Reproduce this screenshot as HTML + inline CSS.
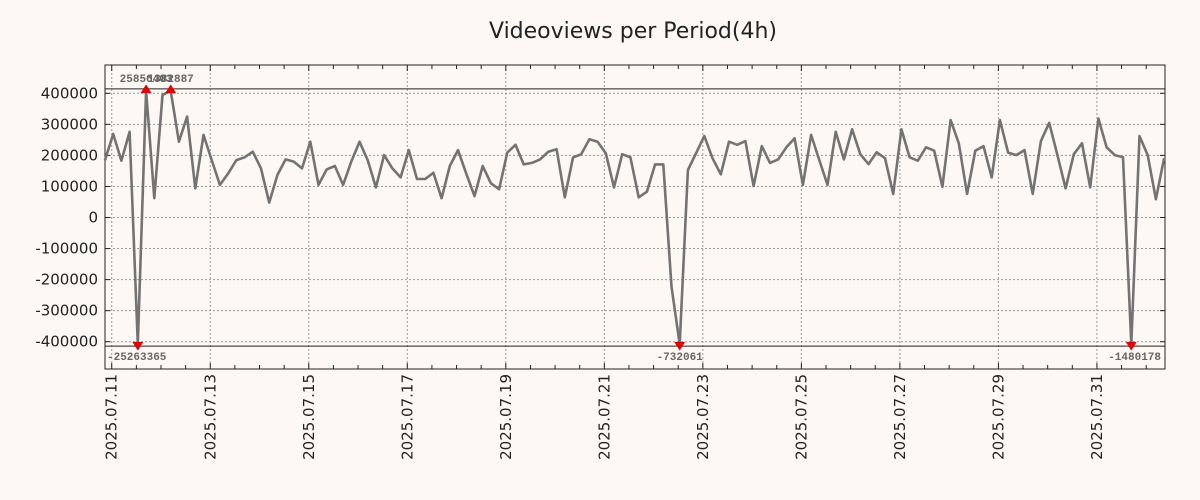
<!DOCTYPE html>
<html><head><meta charset="utf-8">
<style>
body{margin:0;background:#fdf8f3;}
svg{display:block;font-family:"DejaVu Sans","Liberation Sans",sans-serif;}
</style></head>
<body>
<svg id="chart" width="1200" height="500">
<rect width="1200" height="500" fill="#fdf8f3"/>
<text x="633" y="38" font-size="22" text-anchor="middle" fill="#222">Videoviews per Period(4h)</text>
<g id="grid"></g>
<g id="axes"></g>
<g id="series"></g>
<g id="marks"></g>
</svg>
<script>
const values = [185000,269000,183000,276000,-25263365,25856403,62000,395000,1382887,244000,
325000,94000,266000,185000,105000,142000,185000,194000,212000,158000,
48000,137000,187000,180000,158000,244000,105000,155000,166000,105000,
180000,244000,185000,97000,201000,158000,129000,217000,124000,124000,
144000,62000,166000,217000,142000,69000,166000,110000,91000,209000,
234000,171000,176000,187000,212000,220000,65000,193000,204000,252000,
244000,207000,97000,204000,194000,65000,83000,171000,171000,-223000,
-732061,153000,207000,262000,191000,139000,244000,234000,246000,101000,
230000,176000,187000,226000,255000,105000,266000,185000,105000,276000,
187000,284000,204000,172000,210000,191000,76000,284000,194000,183000,
226000,215000,99000,314000,239000,76000,215000,230000,129000,314000,
209000,201000,217000,76000,246000,305000,201000,94000,204000,239000,
97000,319000,226000,201000,194000,-1480178,262000,201000,59000,191000];
const yTicks = [400000,300000,200000,100000,0,-100000,-200000,-300000,-400000];
const xTickLabels = ["2025.07.11","2025.07.13","2025.07.15","2025.07.17","2025.07.19","2025.07.21","2025.07.23","2025.07.25","2025.07.27","2025.07.29","2025.07.31"];
const xTickDays = [0,2,4,6,8,10,12,14,16,18,20];
const maxIdx = [5,8];
const minIdx = [4,70,125];
const CLIP = 408000;

const L=105,R=1165,T=65,B=369;
const NS="http://www.w3.org/2000/svg";
function xs(i){return 105+i*8.21;}
function dayX(d){return xs(0.82+6*d);}
function ys(v){return 217.5 - v/3220.6;}
function mk(tag,attrs,parent){const e=document.createElementNS(NS,tag);for(const k in attrs)e.setAttribute(k,attrs[k]);parent.appendChild(e);return e;}
const grid=document.getElementById('grid'),axes=document.getElementById('axes'),series=document.getElementById('series'),marks=document.getElementById('marks');

const frame=mk('rect',{x:L,y:T,width:R-L,height:B-T,fill:'none',stroke:'#222','stroke-width':1},axes);



yTicks.forEach(v=>{
  const y=ys(v);
  const g=mk('line',{x1:L,x2:R,y1:y,y2:y,stroke:'#999','stroke-dasharray':'2,2','stroke-width':1},grid);
  
  
  mk('line',{x1:L,x2:L+5,y1:y,y2:y,stroke:'#222'},axes);
  mk('line',{x1:R-5,x2:R,y1:y,y2:y,stroke:'#222'},axes);
  const t=mk('text',{x:98,y:y+5,'font-size':15,'text-anchor':'end',fill:'#222'},axes);
  t.textContent=String(v);
  
  
});
for(let d=0;d<=21.5;d+=0.5){
  const x=dayX(d); if(x<L||x>R)continue;
  const len=(d%2===0)?6:4;
  mk('line',{x1:x,x2:x,y1:B,y2:B-len,stroke:'#222'},axes);
  mk('line',{x1:x,x2:x,y1:T,y2:T+len,stroke:'#222'},axes);
}
xTickDays.forEach((d,k)=>{
  const x=dayX(d);
  const g=mk('line',{x1:x,x2:x,y1:T,y2:B,stroke:'#999','stroke-dasharray':'2,2','stroke-width':1},grid);
  
  
  const t=mk('text',{x:0,y:0,'font-size':15,'text-anchor':'end',fill:'#222',transform:`translate(${x+5},${B+5}) rotate(-90)`},axes);
  t.textContent=xTickLabels[k];
  
  
});
[CLIP,-CLIP].forEach(v=>{
  const l=mk('line',{x1:L,x2:R,y1:ys(v)-(v>0?1:-1)*2,y2:ys(v)-(v>0?1:-1)*2,stroke:'#222','stroke-width':1},axes);
  
  
});
const pts=values.map((v,i)=>xs(i).toFixed(1)+','+ys(Math.max(-CLIP,Math.min(CLIP,v))).toFixed(1)).join(' ');
const line=mk('polyline',{points:pts,fill:'none',stroke:'#737373','stroke-width':2.6,'stroke-linejoin':'round'},series);


maxIdx.forEach(i=>{
  const x=xs(i),y=ys(CLIP);
  const p=mk('polygon',{points:`${x-5},${y+2} ${x+5},${y+2} ${x},${y-6}`,fill:'#e00',stroke:'#a00','stroke-width':0.5},marks);
  
  
  const t=mk('text',{x:x,y:82,'font-size':11,'font-weight':'bold','text-anchor':'middle',fill:'#666','font-family':'Liberation Mono, monospace'},marks);
  t.textContent=String(values[i]);
  
  
});
minIdx.forEach(i=>{
  const x=xs(i),y=ys(-CLIP);
  const p=mk('polygon',{points:`${x-5},${y-2} ${x+5},${y-2} ${x},${y+6}`,fill:'#e00',stroke:'#a00','stroke-width':0.5},marks);
  
  
  let ax=x, anchor='middle';
  if(x-40<L){ax=L+2;anchor='start';}
  if(x+40>R){ax=R-4;anchor='end';}
  const t=mk('text',{x:ax,y:360,'font-size':11,'font-weight':'bold','text-anchor':anchor,fill:'#666','font-family':'Liberation Mono, monospace'},marks);
  t.textContent=String(values[i]);
  
  
});
</script>
</body></html>
